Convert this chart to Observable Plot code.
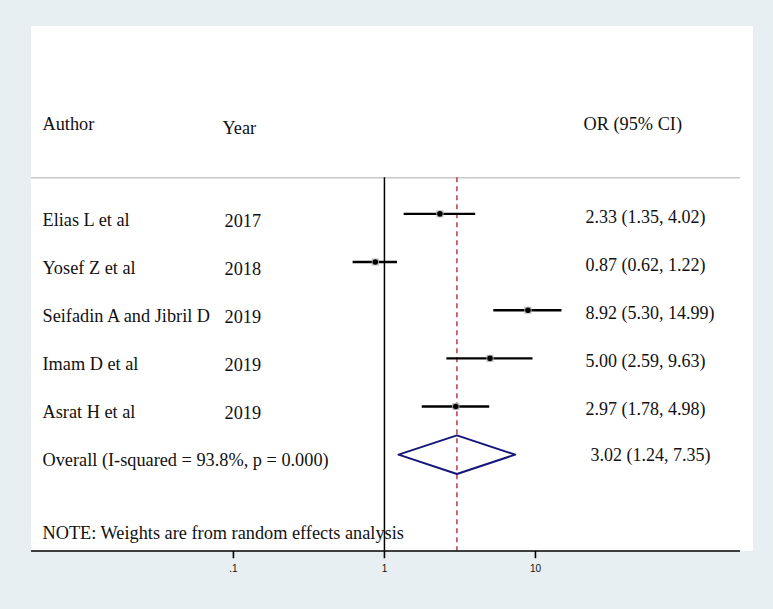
<!DOCTYPE html>
<html>
<head>
<meta charset="utf-8">
<script src="https://cdn.jsdelivr.net/npm/d3@7"></script>
<script src="https://cdn.jsdelivr.net/npm/@observablehq/plot@0.6"></script>
<style>
  html, body { margin: 0; padding: 0; background: #e8eff2; width: 773px; height: 609px; overflow: hidden; }
  #panel { position: absolute; left: 31px; top: 26px; width: 722px; height: 525px; background: #ffffff; }
  #chart { position: absolute; left: 0; top: 0; }
  #chart svg { overflow: visible; }
</style>
</head>
<body>
<div id="panel"></div>
<div id="chart"></div>
<script>
// ---- data ----
const authors = ["Elias L et al", "Yosef Z et al", "Seifadin A and Jibril D", "Imam D et al", "Asrat H et al"];
const years = ["2017", "2018", "2019", "2019", "2019"];
const orValues = [2.33, 0.87, 8.92, 5.00, 2.97];
const ciLower = [1.35, 0.62, 5.30, 2.59, 1.78];
const ciUpper = [4.02, 1.22, 14.99, 9.63, 4.98];
const overallLabel = "Overall (I-squared = 93.8%, p = 0.000)";
const overallOR = 3.02;
const overallLower = 1.24;
const overallUpper = 7.35;
const headers = ["Author", "Year", "OR (95% CI)"];
const noteText = "NOTE: Weights are from random effects analysis";
const tickValues = [0.1, 1, 10];
const tickLabels = [".1", "1", "10"];

// ---- build tables ----
const fmt = v => v.toFixed(2);
const studies = authors.map((a, i) => ({
  row: i, author: a, year: years[i], or: orValues[i], lo: ciLower[i], hi: ciUpper[i],
  label: `${fmt(orValues[i])} (${fmt(ciLower[i])}, ${fmt(ciUpper[i])})`
}));
const overallRow = studies.length;
const overall = [{row: overallRow, author: overallLabel, or: overallOR, lo: overallLower, hi: overallUpper,
  label: `${fmt(overallOR)} (${fmt(overallLower)}, ${fmt(overallUpper)})`}];
const diamondH = 0.4;
const diamond = [
  {x: overallLower, y: overallRow},
  {x: overallOR, y: overallRow - diamondH},
  {x: overallUpper, y: overallRow},
  {x: overallOR, y: overallRow + diamondH},
  {x: overallLower, y: overallRow}
];
const headerRow = -2;
const sepRow = -0.75;
const noteRow = 6.5;
const axisRow = 7;
const tickLen = 0.15;   // in row units (~7px)
const ticks = tickValues.map((v, i) => ({v, label: tickLabels[i], y1: axisRow, y2: axisRow + tickLen}));

const serif = "'Liberation Serif', 'Times New Roman', serif";
const fs = 18.3;
const fsOR = 18;

const chart = Plot.plot({
  width: 773,
  height: 609,
  marginLeft: 31,
  marginRight: 33,
  marginTop: 0,
  marginBottom: 58.5,
  style: {background: "transparent", fontFamily: serif, overflow: "visible"},
  x: {type: "log", domain: [0.0046, 228], axis: null},
  y: {domain: [-4.43, 7.0], reverse: true, axis: null},
  marks: [
    // header separator
    Plot.ruleY([sepRow], {stroke: "#c8c8c8", strokeWidth: 1.5}),
    // null line at 1
    Plot.ruleX([1], {y1: sepRow, y2: axisRow, stroke: "#000", strokeWidth: 1.5}),
    // overall dashed line
    Plot.ruleX([overallOR], {y1: sepRow, y2: axisRow, stroke: "#b01e2a", strokeWidth: 1.3, strokeDasharray: "5,4"}),
    // CIs
    Plot.ruleY(studies, {y: "row", x1: "lo", x2: "hi", stroke: "#000", strokeWidth: 2.4}),
    Plot.dot(studies, {x: "or", y: "row", symbol: "square", r: 4, fill: "#bdbdbd", stroke: "none"}),
    Plot.dot(studies, {x: "or", y: "row", r: 2.8, fill: "#000", stroke: "none"}),
    // diamond
    Plot.line(diamond, {x: "x", y: "y", stroke: "#16167a", strokeWidth: 2}),
    // headers
    Plot.text([headers[0]], {frameAnchor: "left", y: () => headerRow, dx: 11, dy: 7, text: d => d, textAnchor: "start", fontSize: fs, fill: "#111"}),
    Plot.text([headers[1]], {frameAnchor: "left", y: () => headerRow, dx: 191, dy: 11, text: d => d, textAnchor: "start", fontSize: fs, fill: "#111"}),
    Plot.text([headers[2]], {frameAnchor: "left", y: () => headerRow, dx: 552, dy: 7, text: d => d, textAnchor: "start", fontSize: fs, fill: "#111"}),
    // study labels
    Plot.text(studies, {frameAnchor: "left", y: "row", dx: 11, dy: 6, text: "author", textAnchor: "start", fontSize: fs, fill: "#111"}),
    Plot.text(studies, {frameAnchor: "left", y: "row", dx: 193, dy: 7, text: "year", textAnchor: "start", fontSize: fs, fill: "#111"}),
    Plot.text(studies, {frameAnchor: "left", y: "row", dx: 554, dy: 3, text: "label", textAnchor: "start", fontSize: fsOR, fill: "#111"}),
    Plot.text(overall, {frameAnchor: "left", y: "row", dx: 11, dy: 5, text: "author", textAnchor: "start", fontSize: fs, fill: "#111"}),
    Plot.text(overall, {frameAnchor: "left", y: "row", dx: 559, dy: 1, text: "label", textAnchor: "start", fontSize: fsOR, fill: "#111"}),
    // note
    Plot.text([noteText], {frameAnchor: "left", y: () => noteRow, dx: 11, dy: 6, text: d => d, textAnchor: "start", fontSize: fs, fill: "#111"}),
    // axis line, ticks, tick labels
    Plot.ruleY([axisRow], {stroke: "#000", strokeWidth: 1.5}),
    Plot.link(ticks, {x1: "v", x2: "v", y1: "y1", y2: "y2", stroke: "#000", strokeWidth: 1.6}),
    Plot.text(ticks, {x: "v", y: "y2", text: "label", lineAnchor: "top", dy: 7,
      fontSize: 10, fontFamily: "'Liberation Sans', Arial, sans-serif", fill: "#111"})
  ]
});
document.getElementById("chart").appendChild(chart);
</script>
</body>
</html>
